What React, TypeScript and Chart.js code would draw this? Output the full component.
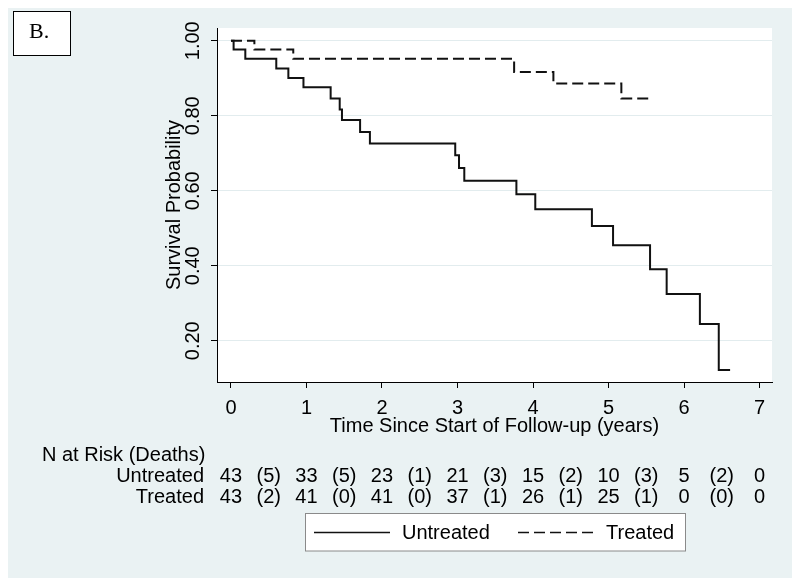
import { useEffect, useRef } from "react";
import { Chart, registerables } from "chart.js";
Chart.register(...registerables);

const untreatedTimes = [0, 0.035, 0.19, 0.6, 0.76, 0.96, 1.32, 1.44, 1.47, 1.71, 1.84, 2.97, 3.02, 3.09, 3.78, 4.03, 4.78, 5.06, 5.55, 5.77, 6.21, 6.46, 6.61];
const untreatedSurv = [1, 0.977, 0.952, 0.926, 0.901, 0.876, 0.846, 0.817, 0.789, 0.757, 0.726, 0.695, 0.661, 0.627, 0.591, 0.551, 0.506, 0.455, 0.391, 0.325, 0.245, 0.122, 0.122];
const treatedTimes = [0, 0.31, 0.825, 3.75, 4.27, 5.17, 5.57];
const treatedSurv = [1, 0.977, 0.952, 0.917, 0.886, 0.846, 0.846];

const xTicks = [0, 1, 2, 3, 4, 5, 6, 7];
const xTickLabels = ["0", "1", "2", "3", "4", "5", "6", "7"];
const yTicks = [0.2, 0.4, 0.6, 0.8, 1.0];
const yTickLabels = ["0.20", "0.40", "0.60", "0.80", "1.00"];

const riskTimes = [0, 0.5, 1, 1.5, 2, 2.5, 3, 3.5, 4, 4.5, 5, 5.5, 6, 6.5, 7];
const untreatedRisk = ["43", "(5)", "33", "(5)", "23", "(1)", "21", "(3)", "15", "(2)", "10", "(3)", "5", "(2)", "0"];
const treatedRisk = ["43", "(2)", "41", "(0)", "41", "(0)", "37", "(1)", "26", "(1)", "25", "(1)", "0", "(0)", "0"];

const seriesNames = ["Untreated", "Treated"];
const xTitle = "Time Since Start of Follow-up (years)";
const yTitle = "Survival Probability";
const riskTitle = "N at Risk (Deaths)";
const panelLabel = "B.";

const FS = 20;
const FONT = `${FS}px "Liberation Sans", Arial, Helvetica, sans-serif`;
const BG = "#eaf2f3";
const INK = "#111111";

const decorPlugin = {
  id: "decor",
  beforeDraw(chart: any) {
    const { ctx, chartArea: a, width, height } = chart;
    ctx.save();
    ctx.fillStyle = BG;
    ctx.fillRect(0, 0, width, height);
    ctx.fillStyle = "#ffffff";
    ctx.fillRect(a.left, a.top, a.right - a.left, a.bottom - a.top);
    ctx.restore();
  },
  afterDraw(chart: any) {
    const { ctx, chartArea: a } = chart;
    const xs = chart.scales.x;
    const ys = chart.scales.y;
    const mid = 0.358 * FS;
    ctx.save();
    ctx.fillStyle = "#000";
    ctx.font = FONT;
    ctx.textBaseline = "alphabetic";

    // y tick labels (rotated)
    ctx.textAlign = "center";
    yTicks.forEach((v, i) => {
      const py = ys.getPixelForValue(v);
      ctx.save();
      ctx.translate(a.left - 25, py);
      ctx.rotate(-Math.PI / 2);
      ctx.fillText(yTickLabels[i], 0, mid);
      ctx.restore();
    });
    // y title
    ctx.save();
    ctx.translate(a.left - 44.5, (a.top + a.bottom) / 2);
    ctx.rotate(-Math.PI / 2);
    ctx.fillText(yTitle, 0, mid);
    ctx.restore();

    // x tick labels
    xTicks.forEach((v, i) => {
      ctx.fillText(xTickLabels[i], xs.getPixelForValue(v), a.bottom + 25 + mid);
    });
    // x title
    ctx.fillText(xTitle, (a.left + a.right) / 2, a.bottom + 43 + mid);

    // risk table
    ctx.textAlign = "left";
    ctx.fillText(riskTitle, 34, 446 + mid);
    ctx.textAlign = "right";
    ctx.fillText(seriesNames[0], 196, 467 + mid);
    ctx.fillText(seriesNames[1], 196, 488 + mid);
    ctx.textAlign = "center";
    riskTimes.forEach((t, i) => {
      const px = xs.getPixelForValue(t);
      ctx.fillText(untreatedRisk[i], px, 467 + mid);
      ctx.fillText(treatedRisk[i], px, 488 + mid);
    });

    // legend box
    ctx.fillStyle = "#ffffff";
    ctx.fillRect(297.5, 505.5, 380, 37.5);
    ctx.strokeStyle = "#8a8a8a";
    ctx.lineWidth = 1;
    ctx.strokeRect(297.5, 505.5, 380, 37.5);
    ctx.strokeStyle = INK;
    ctx.lineWidth = 1.5;
    ctx.beginPath();
    ctx.moveTo(306, 524.5);
    ctx.lineTo(382, 524.5);
    ctx.stroke();
    ctx.setLineDash([11, 5]);
    ctx.beginPath();
    ctx.moveTo(510, 524.5);
    ctx.lineTo(585, 524.5);
    ctx.stroke();
    ctx.setLineDash([]);
    ctx.fillStyle = "#000";
    ctx.textAlign = "left";
    ctx.fillText(seriesNames[0], 394, 524 + mid);
    ctx.fillText(seriesNames[1], 598, 524 + mid);

    // panel label box
    ctx.fillStyle = "#ffffff";
    ctx.fillRect(5.5, 3.5, 57, 44);
    ctx.strokeStyle = "#000";
    ctx.lineWidth = 1;
    ctx.strokeRect(5.5, 3.5, 57, 44);
    ctx.fillStyle = "#000";
    ctx.font = `22px "Liberation Serif", "Times New Roman", serif`;
    ctx.fillText(panelLabel, 21, 30);
    ctx.restore();
  },
};

export default function App() {
  const ref = useRef<HTMLCanvasElement>(null);
  useEffect(() => {
    if (!ref.current) return;
    const chart = new Chart(ref.current, {
      type: "line",
      data: {
        datasets: [
          {
            label: seriesNames[0],
            data: untreatedTimes.map((t, i) => ({ x: t, y: untreatedSurv[i] })),
            borderColor: INK,
            borderWidth: 2,
            stepped: true,
            pointRadius: 0,
            fill: false,
          },
          {
            label: seriesNames[1],
            data: treatedTimes.map((t, i) => ({ x: t, y: treatedSurv[i] })),
            borderColor: INK,
            borderWidth: 2,
            borderDash: [11, 5],
            stepped: true,
            pointRadius: 0,
            fill: false,
          },
        ],
      },
      options: {
        responsive: false,
        animation: false,
        devicePixelRatio: 1,
        layout: { padding: { left: 201, right: 20, top: 20, bottom: 188 } },
        plugins: { legend: { display: false }, tooltip: { enabled: false } },
        scales: {
          x: {
            type: "linear",
            min: -0.185,
            max: 7.165,
            afterBuildTicks: (s: any) => {
              s.ticks = xTicks.map((v) => ({ value: v }));
            },
            afterFit: (s: any) => {
              s.height = 8;
            },
            ticks: { display: false },
            grid: { drawOnChartArea: false, drawTicks: true, tickLength: 6, tickColor: "#000", tickWidth: 1 },
            border: { display: true, color: "#000", width: 1 },
          },
          y: {
            type: "linear",
            min: 0.09,
            max: 1.034,
            afterBuildTicks: (s: any) => {
              s.ticks = yTicks.map((v) => ({ value: v }));
            },
            afterFit: (s: any) => {
              s.width = 8;
            },
            ticks: { display: false },
            grid: { color: "#e2ecee", lineWidth: 1, drawTicks: true, tickLength: 6, tickColor: "#000", tickWidth: 1 },
            border: { display: true, color: "#000", width: 1 },
          },
        },
      } as any,
      plugins: [decorPlugin],
    });
    return () => chart.destroy();
  }, []);
  return <canvas ref={ref} width={784} height={570} style={{ display: "block" }} />;
}
